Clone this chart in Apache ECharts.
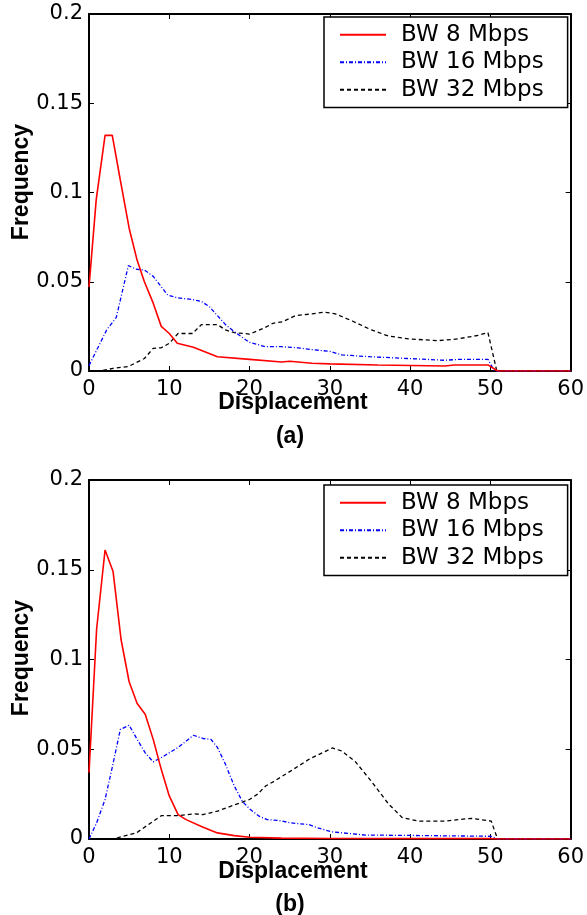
<!DOCTYPE html>
<html><head><meta charset="utf-8">
<script src="https://cdn.jsdelivr.net/npm/echarts@6/dist/echarts.min.js"></script>
<style>html,body{margin:0;padding:0;background:#fff}#c{width:587px;height:915px}</style>
</head><body><div id="c"></div>
<script>
// ---- data ----
const seriesNames = ['BW 8 Mbps', 'BW 16 Mbps', 'BW 32 Mbps'];
const xTicks = [0, 10, 20, 30, 40, 50, 60];
const yTicks = [0, 0.05, 0.1, 0.15, 0.2];
const yTickLabels = ['0', '0.05', '0.1', '0.15', '0.2'];
const panelLabels = ['(a)', '(b)'];

// panel (a)
const a8x  = [0, 0.9, 2, 2.9, 3.9, 5, 6, 6.9, 8, 9, 10, 11, 13, 16, 20, 24, 25, 27.8, 30, 36, 44.3, 45.5, 49.7, 50.9, 60];
const a8y  = [0.047, 0.096, 0.132, 0.132, 0.107, 0.080, 0.062, 0.050, 0.038, 0.025, 0.021, 0.0155, 0.0133, 0.008, 0.0065, 0.005, 0.0055, 0.0043, 0.004, 0.0034, 0.0028, 0.0034, 0.0034, 0, 0];
const a16x = [0, 2.2, 3.4, 4.9, 5.9, 6.9, 8, 9.8, 11, 12.9, 14, 15, 16, 17, 18.1, 20, 22, 24, 26, 27.8, 30, 31.5, 35, 39.8, 44.3, 46, 49.7, 50.5, 60];
const a16y = [0.003, 0.023, 0.030, 0.059, 0.057, 0.0566, 0.053, 0.0426, 0.041, 0.040, 0.039, 0.036, 0.031, 0.026, 0.022, 0.016, 0.0136, 0.0136, 0.013, 0.012, 0.011, 0.009, 0.008, 0.007, 0.006, 0.0065, 0.0065, 0, 0];
const a32x = [0, 1.4, 3, 4.9, 6.9, 8, 9, 10, 11.1, 12.9, 14, 16, 17, 18.1, 20, 21.8, 22.9, 24.1, 25.7, 27.8, 29.3, 30.7, 32.8, 35.2, 37.3, 39.8, 43.5, 46, 48.5, 49.7, 50.8, 60];
const a32y = [0, 0, 0.0015, 0.0025, 0.007, 0.0127, 0.013, 0.0155, 0.021, 0.021, 0.026, 0.026, 0.023, 0.0215, 0.0207, 0.024, 0.0267, 0.0276, 0.031, 0.032, 0.033, 0.032, 0.028, 0.023, 0.0196, 0.018, 0.017, 0.018, 0.020, 0.0215, 0, 0];

// panel (b)
const b8x  = [0, 0.95, 2, 3, 4, 5, 6, 7, 8, 9, 10, 11.1, 12.1, 14, 16, 18.1, 20, 24, 30, 40, 50, 51, 60];
const b8y  = [0.037, 0.117, 0.161, 0.149, 0.111, 0.0876, 0.0755, 0.0695, 0.0555, 0.0388, 0.024, 0.0136, 0.0108, 0.007, 0.0034, 0.0019, 0.001, 0.0005, 0.0003, 0.0002, 0.0002, 0, 0];
const b16x = [0, 0.95, 2, 2.9, 3.9, 5, 6, 7, 8, 9, 11.1, 13, 14.2, 15.2, 16, 17, 18.1, 19.1, 20.1, 21.2, 22.2, 23.7, 25.1, 27.4, 28.6, 30.3, 34.4, 39.8, 50.1, 50.9, 60];
const b16y = [0, 0.009, 0.022, 0.040, 0.061, 0.0634, 0.0555, 0.048, 0.043, 0.0453, 0.051, 0.0578, 0.056, 0.0555, 0.051, 0.0416, 0.0295, 0.021, 0.0164, 0.0127, 0.0108, 0.0103, 0.009, 0.008, 0.006, 0.004, 0.0022, 0.002, 0.0015, 0, 0];
const b32x = [0, 3, 5.9, 9, 11.1, 13.1, 14.2, 16, 18.1, 20, 21, 22, 23, 25.1, 27.4, 30.3, 31.5, 33.2, 35.2, 37.3, 39, 41, 44.3, 47.6, 50.1, 50.9, 60];
const b32y = [0, 0, 0.0034, 0.013, 0.013, 0.014, 0.0136, 0.0155, 0.019, 0.022, 0.025, 0.0295, 0.032, 0.0378, 0.0444, 0.0507, 0.049, 0.043, 0.032, 0.0196, 0.012, 0.010, 0.010, 0.0115, 0.010, 0, 0];

// ---- build ----
const zip = (xs, ys) => xs.map((x, i) => [x, ys[i]]);
const panels = [
  { grid: { left: 89, top: 14, width: 484, height: 357 }, legendTop: 17, data: [[a8x, a8y], [a16x, a16y], [a32x, a32y]], titleY: 403, labelY: 437, freqY: 182 },
  { grid: { left: 89, top: 480, width: 484, height: 359 }, legendTop: 485, data: [[b8x, b8y], [b16x, b16y], [b32x, b32y]], titleY: 872, labelY: 905, freqY: 658 }
];
const styles = [
  { color: '#ff0000', width: 1.6, type: 'solid' },
  { color: '#0000ff', width: 1.3, type: [4, 2, 1, 2] },
  { color: '#000000', width: 1.3, type: [4, 3] }
];
const labelFont = { fontFamily: 'DejaVu Sans', fontSize: 21, color: '#000' };
const xAxes = [], yAxes = [], series = [], legends = [], graphics = [];
panels.forEach((p, pi) => {
  const base = {
    gridIndex: pi, type: 'value', splitLine: { show: false },
    axisLine: { show: true, onZero: false, lineStyle: { color: '#000', width: 2 } },
    axisTick: { show: true, inside: true, length: 5, lineStyle: { color: '#000', width: 1 } }
  };
  xAxes.push(Object.assign({}, base, { position: 'bottom', min: 0, max: 60, interval: 10,
    axisLabel: Object.assign({ margin: 8 }, labelFont) }));
  xAxes.push(Object.assign({}, base, { position: 'top', min: 0, max: 60, interval: 10, axisLabel: { show: false } }));
  yAxes.push(Object.assign({}, base, { position: 'left', min: 0, max: 0.2, interval: 0.05,
    axisLabel: Object.assign({ margin: 6, formatter: v => { const i = yTicks.findIndex(t => Math.abs(t - v) < 1e-9); return i >= 0 ? yTickLabels[i] : ''; } }, labelFont) }));
  yAxes.push(Object.assign({}, base, { position: 'right', min: 0, max: 0.2, interval: 0.05, axisLabel: { show: false } }));
  p.data.forEach((d, si) => {
    series.push({
      name: seriesNames[si], type: 'line', xAxisIndex: pi * 2, yAxisIndex: pi * 2,
      data: zip(d[0], d[1]), symbol: 'none', showSymbol: false, animation: false,
      lineStyle: styles[si], itemStyle: { color: styles[si].color }, z: 3 - si
    });
  });
  legends.push({
    orient: 'vertical', left: 324, top: p.legendTop, padding: [4, 24, 4, 15], itemGap: 0,
    itemWidth: 46, itemHeight: 12, borderColor: '#000', borderWidth: 1.5, backgroundColor: '#fff',
    itemStyle: { opacity: 0 },
    textStyle: { fontFamily: 'DejaVu Sans', fontSize: 23, lineHeight: 27.5, color: '#000', padding: [0, 0, 0, 10] },
    data: seriesNames, selectedMode: false
  });
  graphics.push({ type: 'text', x: 293, y: p.titleY,
    style: { text: 'Displacement', font: 'bold 23px "Liberation Sans"', fill: '#000', align: 'center', verticalAlign: 'middle', textAlign: 'center', textVerticalAlign: 'middle' } });
  graphics.push({ type: 'text', x: 290, y: p.labelY,
    style: { text: panelLabels[pi], font: 'bold 23px "Liberation Sans"', fill: '#000', align: 'center', verticalAlign: 'middle', textAlign: 'center', textVerticalAlign: 'middle' } });
  graphics.push({ type: 'text', x: 22, y: p.freqY, rotation: Math.PI / 2,
    style: { text: 'Frequency', font: 'bold 23px "Liberation Sans"', fill: '#000', align: 'center', verticalAlign: 'middle', textAlign: 'center', textVerticalAlign: 'middle' } });
});

const chart = echarts.init(document.getElementById('c'), null, { renderer: 'canvas' });
chart.setOption({
  animation: false,
  backgroundColor: '#fff',
  grid: panels.map(p => p.grid),
  xAxis: xAxes, yAxis: yAxes, series: series, legend: legends, graphic: graphics
});
</script></body></html>
